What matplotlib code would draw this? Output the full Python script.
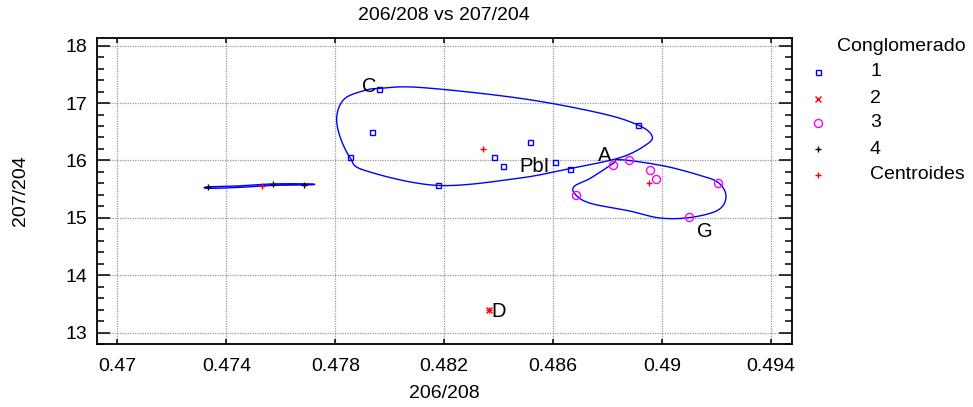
import numpy as np
import matplotlib
matplotlib.use("Agg")
import matplotlib.pyplot as plt

plt.rcParams['font.family'] = ['Liberation Sans', 'DejaVu Sans']

# ---- cluster members (206/208, 207/204) ----
c1_x = [0.47962, 0.47936, 0.47854, 0.48176, 0.48381, 0.48414, 0.48516, 0.48606, 0.48661, 0.48913]
c1_y = [17.249, 16.491, 16.054, 15.572, 16.054, 15.899, 16.318, 15.974, 15.859, 16.617]
c2_x = [0.48366]
c2_y = [13.39]
c3_x = [0.48683, 0.48819, 0.48879, 0.48956, 0.48978, 0.49204, 0.49100]
c3_y = [15.399, 15.916, 16.002, 15.842, 15.670, 15.613, 15.010]
c4_x = [0.47334, 0.47573, 0.47684]
c4_y = [15.532, 15.584, 15.572]

# cluster centroids
cen_x = [0.48342, 0.48366, 0.48952, 0.47532]
cen_y = [16.204, 13.39, 15.601, 15.554]

# outline vertices of the cluster envelopes
env1_x = [0.479608, 0.481114, 0.484785, 0.487722, 0.489117, 0.489631, 0.489411, 0.488457,
          0.486621, 0.484675, 0.481738, 0.479094, 0.478543, 0.478140, 0.478066, 0.478360,
          0.479094]
env1_y = [17.254, 17.271, 17.082, 16.824, 16.617, 16.427, 16.272, 16.049,
          15.859, 15.687, 15.566, 15.825, 16.049, 16.462, 16.806, 17.082,
          17.220]
env3_x = [0.488457, 0.489999, 0.491283, 0.492054, 0.492348, 0.492054, 0.491027, 0.489925,
          0.488824, 0.487355, 0.486810, 0.486773, 0.487355, 0.488200]
env3_y = [16.014, 15.911, 15.756, 15.618, 15.377, 15.136, 15.007, 14.998,
          15.119, 15.256, 15.411, 15.549, 15.687, 15.945]
env4_x = [0.473330, 0.474505, 0.475716, 0.477075, 0.477075, 0.475716, 0.474505, 0.473330]
env4_y = [15.515, 15.532, 15.566, 15.575, 15.592, 15.592, 15.558, 15.541]

# sample annotations
ann_text = ["C", "PbI", "A", "G", "D"]
ann_x = [0.47924, 0.48532, 0.48788, 0.49158, 0.48401]
ann_y = [17.28, 15.888, 16.088, 14.762, 13.375]

x_ticks = [0.47, 0.474, 0.478, 0.482, 0.486, 0.49, 0.494]
x_tick_labels = ["0.47", "0.474", "0.478", "0.482", "0.486", "0.49", "0.494"]
y_ticks = [13, 14, 15, 16, 17, 18]
y_tick_labels = ["13", "14", "15", "16", "17", "18"]

legend_title = "Conglomerado"
legend_labels = ["1", "2", "3", "4", "Centroides"]


def closed_curve(xs, ys, n=40):
    """Closed Catmull-Rom curve through the given vertices."""
    p = np.column_stack([xs, ys])
    # normalise so both axes weigh alike
    sx = np.ptp(p[:, 0]) or 1.0
    sy = np.ptp(p[:, 1]) or 1.0
    q = p / [sx, sy]
    m = len(q)
    out = []
    for i in range(m):
        p0, p1, p2, p3 = q[(i - 1) % m], q[i], q[(i + 1) % m], q[(i + 2) % m]
        t = np.linspace(0, 1, n, endpoint=False)[:, None]
        seg = 0.5 * ((2 * p1) + (-p0 + p2) * t + (2 * p0 - 5 * p1 + 4 * p2 - p3) * t ** 2
                     + (-p0 + 3 * p1 - 3 * p2 + p3) * t ** 3)
        out.append(seg)
    out = np.vstack(out + [q[:1]]) * [sx, sy]
    return out[:, 0], out[:, 1]


fig = plt.figure(figsize=(9.73, 4.07), dpi=100)
ax = fig.add_axes([0.0994, 0.154, 0.7143, 0.752])

for ex, ey in [(env1_x, env1_y), (env3_x, env3_y), (env4_x, env4_y)]:
    cx, cy = closed_curve(ex, ey)
    ax.plot(cx, cy, color='#0000ff', lw=1.0, zorder=2)

ax.plot(c1_x, c1_y, ls='none', marker='s', ms=3.6, mfc='none', mec='#0000ff', mew=1.0, zorder=3)
ax.plot(c2_x, c2_y, ls='none', marker='x', ms=4.0, mec='#ff0000', mew=1.0, zorder=3)
ax.plot(c3_x, c3_y, ls='none', marker='o', ms=5.8, mfc='none', mec='#ff00ff', mew=1.0, zorder=3)
ax.plot(c4_x, c4_y, ls='none', marker='+', ms=4.0, mec='#000000', mew=1.0, zorder=3)
ax.plot(cen_x, cen_y, ls='none', marker='+', ms=4.0, mec='#ff0000', mew=1.0, zorder=4)

for t, x, y in zip(ann_text, ann_x, ann_y):
    ax.text(x, y, t, fontsize=14.5, ha='center', va='center', color='black', zorder=5)

ax.set_xlim(0.46924, 0.49476)
ax.set_ylim(12.857, 18.127)
ax.set_xticks(x_ticks)
ax.set_xticklabels(x_tick_labels, fontsize=14)
ax.set_yticks(y_ticks)
ax.set_yticklabels(y_tick_labels, fontsize=14)
ax.set_yticks(np.arange(12.8, 18.2, 0.2), minor=True)
ax.tick_params(axis='x', which='major', direction='in', length=3.6, width=1.1,
               top=True, bottom=True, pad=10)
ax.tick_params(axis='y', which='major', direction='in', length=9.4, width=1.1,
               left=True, right=True, pad=7)
ax.tick_params(axis='y', which='minor', direction='in', length=5.0, width=1.1,
               left=True, right=True)
ax.grid(True, which='major', color='#999999', ls=(0, (1, 1)), lw=0.9, zorder=0)
for s in ax.spines.values():
    s.set_linewidth(1.3)

fig.text(444 / 973, 1 - 15 / 407, "206/208 vs 207/204", fontsize=14, ha='center', va='center')
fig.text(444 / 973, 1 - 393 / 407, "206/208", fontsize=14, ha='center', va='center')
fig.text(21 / 973, 1 - 191 / 407, "207/204", fontsize=14, ha='center', va='center', rotation=90)

# legend panel on the right
lax = fig.add_axes([0, 0, 1, 1], facecolor='none')
lax.set_xlim(0, 973)
lax.set_ylim(407, 0)
lax.axis('off')
lax.text(837, 46.5, legend_title, fontsize=14, ha='left', va='center')
row_y = [72, 98.5, 122.5, 149, 174.5]
styles = [dict(marker='s', ms=3.6, mfc='none', mec='#0000ff'),
          dict(marker='x', ms=4.0, mec='#ff0000'),
          dict(marker='o', ms=5.8, mfc='none', mec='#ff00ff'),
          dict(marker='+', ms=4.0, mec='#000000'),
          dict(marker='+', ms=4.0, mec='#ff0000')]
for lab, yy, st in zip(legend_labels, row_y, styles):
    lax.plot([818], [yy], ls='none', mew=1.0, **st)
    lax.text(870, yy, lab, fontsize=14, ha='left', va='center')

fig.savefig("out.png", dpi=100)
